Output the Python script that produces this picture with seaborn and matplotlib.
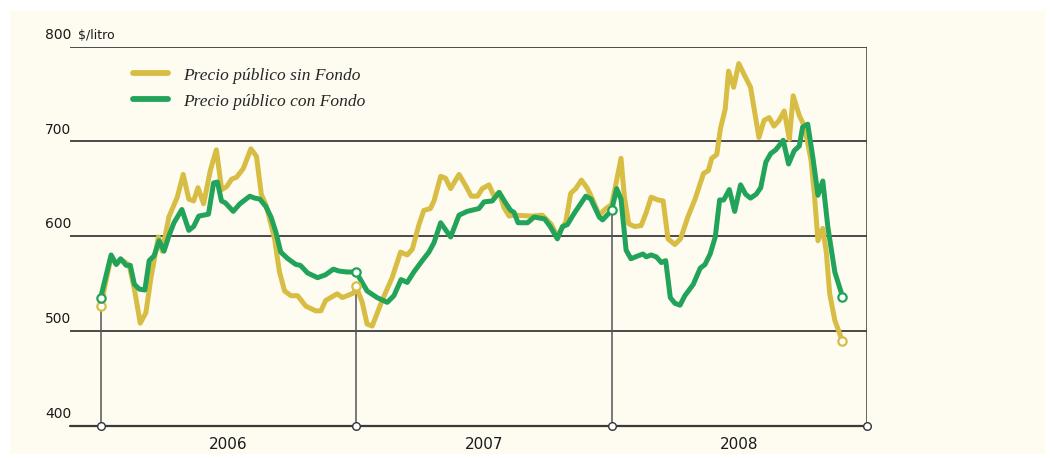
import numpy as np
import pandas as pd
import matplotlib
matplotlib.use("Agg")
import matplotlib.pyplot as plt
from matplotlib.patches import Rectangle
from matplotlib.lines import Line2D
import seaborn as sns

# fecha en años decimales, precio en $/litro
anio_sin = [2006.000, 2006.041, 2006.061, 2006.078, 2006.093, 2006.112, 2006.132, 2006.155,
            2006.177, 2006.197, 2006.226, 2006.241, 2006.267, 2006.300, 2006.323, 2006.345,
            2006.364, 2006.381, 2006.403, 2006.430, 2006.453, 2006.474, 2006.493, 2006.513,
            2006.532, 2006.558, 2006.588, 2006.610, 2006.629, 2006.648, 2006.681, 2006.700,
            2006.720, 2006.745, 2006.771, 2006.803, 2006.842, 2006.862, 2006.881, 2006.900,
            2006.926, 2006.946, 2006.965, 2006.991, 2007.000, 2007.024, 2007.043, 2007.063,
            2007.102, 2007.141, 2007.174, 2007.200, 2007.220, 2007.246, 2007.265, 2007.291,
            2007.305, 2007.331, 2007.350, 2007.370, 2007.403, 2007.429, 2007.451, 2007.475,
            2007.494, 2007.520, 2007.540, 2007.560, 2007.579, 2007.599, 2007.618, 2007.690,
            2007.729, 2007.762, 2007.788, 2007.821, 2007.840, 2007.860, 2007.882, 2007.906,
            2007.925, 2007.952, 2007.978, 2008.000, 2008.015, 2008.037, 2008.050, 2008.067,
            2008.090, 2008.116, 2008.136, 2008.155, 2008.182, 2008.202, 2008.221, 2008.248,
            2008.270, 2008.300, 2008.327, 2008.344, 2008.360, 2008.379, 2008.392, 2008.412,
            2008.426, 2008.445, 2008.458, 2008.478, 2008.498, 2008.518, 2008.544, 2008.577,
            2008.597, 2008.617, 2008.636, 2008.656, 2008.676, 2008.696, 2008.711, 2008.735,
            2008.755, 2008.781, 2008.794, 2008.808, 2008.827, 2008.841, 2008.854, 2008.874,
            2008.904]
precio_sin = [526, 578, 570, 575, 573, 569, 544, 508,
              519, 556, 599, 584, 620, 641, 665, 639,
              637, 651, 634, 670, 691, 649, 652, 660,
              662, 671, 692, 684, 644, 632, 597, 562,
              542, 537, 537, 526, 521, 521, 532, 535,
              539, 535, 537, 540, 547, 530, 507, 505,
              532, 556, 583, 580, 586, 612, 627, 629,
              637, 663, 661, 650, 665, 653, 642, 642,
              650, 654, 642, 646, 630, 621, 622, 621,
              622, 613, 600, 615, 645, 650, 659, 650,
              639, 622, 629, 633, 652, 682, 642, 613,
              610, 611, 625, 641, 638, 637, 597, 591,
              597, 621, 639, 653, 666, 669, 682, 686,
              713, 734, 774, 757, 782, 771, 757, 704,
              722, 725, 716, 722, 732, 702, 748, 727,
              716, 680, 644, 595, 608, 582, 539, 511,
              489]

anio_con = [2006.000, 2006.041, 2006.061, 2006.078, 2006.100, 2006.116, 2006.132, 2006.151,
            2006.173, 2006.190, 2006.209, 2006.229, 2006.248, 2006.267, 2006.287, 2006.318,
            2006.345, 2006.364, 2006.384, 2006.422, 2006.442, 2006.457, 2006.473, 2006.488,
            2006.519, 2006.545, 2006.584, 2006.603, 2006.623, 2006.647, 2006.667, 2006.686,
            2006.705, 2006.733, 2006.764, 2006.782, 2006.810, 2006.849, 2006.880, 2006.911,
            2006.933, 2006.965, 2007.000, 2007.043, 2007.082, 2007.122, 2007.148, 2007.176,
            2007.200, 2007.226, 2007.259, 2007.285, 2007.305, 2007.331, 2007.370, 2007.403,
            2007.435, 2007.481, 2007.501, 2007.533, 2007.560, 2007.585, 2007.605, 2007.618,
            2007.634, 2007.671, 2007.697, 2007.738, 2007.760, 2007.788, 2007.808, 2007.827,
            2007.854, 2007.899, 2007.919, 2007.952, 2007.965, 2008.000, 2008.020, 2008.037,
            2008.057, 2008.076, 2008.103, 2008.123, 2008.136, 2008.155, 2008.175, 2008.195,
            2008.212, 2008.230, 2008.248, 2008.268, 2008.287, 2008.320, 2008.347, 2008.366,
            2008.386, 2008.406, 2008.423, 2008.439, 2008.461, 2008.482, 2008.505, 2008.525,
            2008.544, 2008.566, 2008.584, 2008.604, 2008.623, 2008.643, 2008.672, 2008.693,
            2008.715, 2008.735, 2008.748, 2008.768, 2008.788, 2008.808, 2008.827, 2008.847,
            2008.874, 2008.904]
precio_con = [535, 580, 570, 576, 569, 569, 549, 544,
              543, 574, 579, 595, 584, 600, 614, 628,
              606, 610, 621, 623, 656, 657, 637, 635,
              626, 634, 642, 640, 639, 631, 620, 604,
              583, 576, 570, 569, 561, 556, 559, 565,
              563, 562, 562, 542, 535, 530, 537, 554,
              551, 562, 574, 583, 593, 614, 599, 622,
              626, 629, 636, 637, 646, 635, 627, 625,
              614, 614, 620, 618, 610, 597, 610, 612,
              624, 642, 639, 620, 617, 627, 650, 639,
              585, 576, 579, 581, 578, 580, 578, 572,
              574, 535, 529, 527, 537, 549, 566, 570,
              581, 599, 638, 638, 649, 626, 654, 644,
              640, 644, 651, 678, 687, 691, 701, 676,
              690, 695, 715, 718, 683, 643, 658, 609,
              562, 536]

series = ["Precio público sin Fondo", "Precio público con Fondo"]
colores = ["#D8BD45", "#22A35A"]
anios = [2006, 2007, 2008, 2009]
etiquetas_y = [400, 500, 600, 700, 800]

df = pd.concat([
    pd.DataFrame({"anio": anio_sin, "precio": precio_sin, "serie": series[0]}),
    pd.DataFrame({"anio": anio_con, "precio": precio_con, "serie": series[1]}),
])

sns.set_style("white")
fig = plt.figure(figsize=(10.53, 4.6), dpi=100)
fig.patch.set_facecolor("white")
W, H = 1053, 460
fig.patches.append(Rectangle((10 / W, 5 / H), 1035 / W, 443 / H, transform=fig.transFigure,
                             facecolor="#FEFBF1", edgecolor="none", zorder=-5))
ax = fig.add_axes([70 / W, (460 - 426.5) / H, 797 / W, 379 / H])
ax.set_facecolor("none")

# lineas horizontales
for v in etiquetas_y[1:]:
    ax.axhline(v, color="#1a1a1a", lw=1.1, zorder=1)
ax.axhline(400, color="#3a3a3a", lw=1.6, zorder=1, clip_on=False)
ax.vlines(2009, 400, 800, color="#3a3a3a", lw=1.1, zorder=1)

sns.lineplot(data=df, x="anio", y="precio", hue="serie", palette=colores,
             estimator=None, lw=3.6, legend=False, ax=ax, zorder=3)

# marcas verticales en inicio de cada año
for a in anios[:3]:
    tope = min(np.interp(a, anio_sin, precio_sin), np.interp(a, anio_con, precio_con))
    ax.vlines(a, 400, tope, color="#555555", lw=1.1, zorder=2)

marcas_sin = [2006, 2007, anio_sin[-1]]
marcas_con = [2006, 2007, 2008, anio_con[-1]]
ax.plot(marcas_sin, np.interp(marcas_sin, anio_sin, precio_sin), "o", ms=6, mfc="white",
        mec=colores[0], mew=1.6, zorder=4)
ax.plot(marcas_con, np.interp(marcas_con, anio_con, precio_con), "o", ms=6, mfc="white",
        mec=colores[1], mew=1.6, zorder=4)
ax.plot(anios, [400] * len(anios), "o", ms=5.5, mfc="white", mec="#333333", mew=1.0,
        zorder=5, clip_on=False)

ax.set_xlim(2005.88, 2009.0)
ax.set_ylim(400, 800)
ax.set_xticks([])
ax.set_yticks([])
ax.set_xlabel("")
ax.set_ylabel("")
sns.despine(ax=ax, left=True, bottom=True)

ytrans = ax.get_yaxis_transform()
for v in etiquetas_y:
    ax.annotate(str(v), xy=(-25 / 797, v), xycoords=ytrans, xytext=(0, 4),
                textcoords="offset points", ha="left", va="bottom", fontsize=10,
                color="#1a1a1a", annotation_clip=False)
ax.annotate("$/litro", xy=(8 / 797, 800), xycoords=ytrans, xytext=(0, 4),
            textcoords="offset points", ha="left", va="bottom", fontsize=9,
            color="#1a1a1a", annotation_clip=False)

xtrans = ax.get_xaxis_transform()
for a in anios[:3]:
    ax.text(a + 0.5, -0.048, str(a), transform=xtrans, ha="center", va="center",
            fontsize=11, color="#1a1a1a",
            family=["Liberation Sans Narrow", "DejaVu Sans"])

handles = [Line2D([0], [0], color=c, lw=4.2, solid_capstyle="round") for c in colores]
ax.legend(handles, series, loc="upper left", bbox_to_anchor=(0.079, 0.945),
          frameon=False, borderpad=0, borderaxespad=0, handlelength=2.0,
          handletextpad=0.9, labelspacing=0.55,
          prop={"family": ["Liberation Serif", "DejaVu Serif"], "style": "italic", "size": 12.5})

fig.savefig("out.png", dpi=100, facecolor="white")
